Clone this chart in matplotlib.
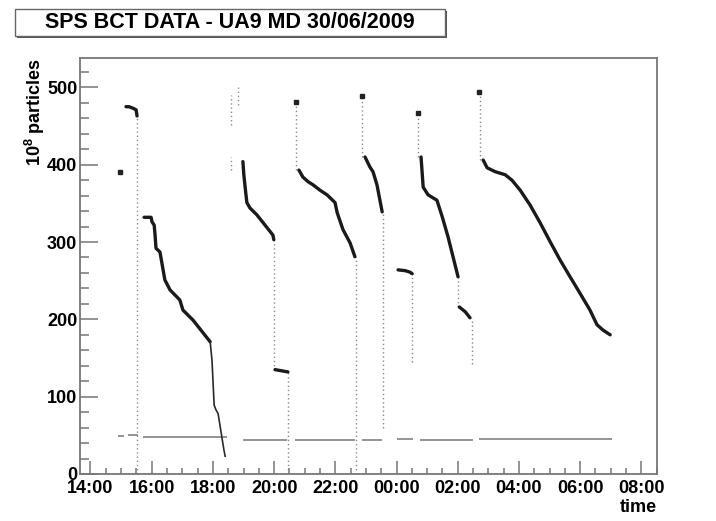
import matplotlib
matplotlib.use("Agg")
import matplotlib.pyplot as plt
from matplotlib.patches import Rectangle
from matplotlib.ticker import MultipleLocator, FuncFormatter

plt.rcParams['font.family'] = ['Liberation Sans', 'DejaVu Sans']
plt.rcParams['mathtext.fontset'] = 'custom'
plt.rcParams['mathtext.rm'] = 'Liberation Sans:bold'
plt.rcParams['mathtext.bf'] = 'Liberation Sans:bold'

# time in hours since midnight of 30/06 (values > 24 are the next morning)
# intensity in units of 1e8 particles

# stored beam, one list pair per fill (dense part of the decay)
fill1_t = [15.16, 15.26, 15.39, 15.49, 15.52]
fill1_n = [475, 475, 473, 471, 463]
fill2_t = [15.75, 15.98, 16.01, 16.08, 16.11, 16.14, 16.27, 16.43, 16.60, 16.92, 17.02, 17.35, 17.91]
fill2_n = [332, 332, 326, 322, 309, 292, 287, 251, 238, 225, 212, 199, 171]
fill3_t = [18.98, 19.01, 19.08, 19.11, 19.21, 19.44, 19.70, 19.96, 19.99]
fill3_n = [404, 387, 361, 351, 344, 335, 322, 309, 303]
fill3b_t = [20.03, 20.45]
fill3b_n = [135, 132]
fill4_t = [20.81, 20.94, 21.11, 21.27, 21.50, 21.73, 21.99, 22.06, 22.25, 22.48, 22.64]
fill4_n = [393, 384, 378, 374, 367, 361, 351, 338, 316, 299, 281]
fill5_t = [22.97, 23.13, 23.23, 23.36, 23.53]
fill5_n = [410, 397, 391, 374, 339]
fill6_t = [24.05, 24.28, 24.44, 24.51]
fill6_n = [264, 263, 261, 259]
fill7_t = [24.80, 24.87, 25.03, 25.32, 25.49, 25.68, 26.01]
fill7_n = [410, 371, 361, 354, 333, 307, 255]
fill7b_t = [26.05, 26.24, 26.40]
fill7b_n = [216, 210, 202]
fill8_t = [26.83, 26.96, 27.22, 27.55, 27.77, 28.04, 28.36, 28.69, 29.01, 29.34,
           29.67, 29.99, 30.32, 30.55, 30.75, 30.98]
fill8_n = [406, 396, 391, 387, 380, 367, 348, 325, 301, 277, 255, 234, 212, 193, 186, 180]

# end of fill 2, scraped down in steps
tail2_t = [17.91, 17.97, 18.04, 18.10, 18.17, 18.23, 18.36, 18.40]
tail2_n = [171, 147, 89, 83, 78, 63, 31, 23]

# injections and dumps: sparse samples along vertical lines
drop_t = [15.53, 18.59, 18.59, 18.82, 20.00, 20.46, 20.73, 22.66, 22.87, 23.55,
          24.52, 24.71, 26.02, 26.45, 26.72]
drop_hi = [463, 490, 410, 500, 303, 132, 481, 281, 489, 339, 259, 467, 255, 202, 494]
drop_lo = [0, 451, 393, 477, 135, 0, 393, 0, 410, 60, 145, 410, 216, 142, 406]

# isolated samples at the start of each injection
inj_t = [14.96, 20.72, 22.87, 24.70, 26.70]
inj_n = [391, 481, 489, 467, 494]

# offset reading of the monitor with no beam
base_t0 = [14.91, 15.22, 15.73, 18.98, 20.68, 22.87, 24.02, 24.76, 26.69]
base_t1 = [15.10, 15.56, 18.46, 20.42, 22.64, 23.53, 24.54, 26.50, 31.04]
base_n = [49, 50, 48, 44.5, 43.5, 44, 45, 44, 45]

fig = plt.figure(figsize=(7.16, 5.21), dpi=100)
ax = fig.add_axes([80 / 716, 47 / 521, 577 / 716, 416 / 521])

ax.hlines(base_n, base_t0, base_t1, colors='#8c8c8c', lw=1.3)
ax.vlines(drop_t, drop_lo, drop_hi, colors='#8a8a8a', linestyles=(0, (1, 2)), lw=1)

for t, n in [(fill1_t, fill1_n), (fill2_t, fill2_n), (fill3_t, fill3_n), (fill3b_t, fill3b_n),
             (fill4_t, fill4_n), (fill5_t, fill5_n), (fill6_t, fill6_n), (fill7_t, fill7_n),
             (fill7b_t, fill7b_n), (fill8_t, fill8_n)]:
    ax.plot(t, n, color='#1a1a1a', lw=2.4, solid_capstyle='round')
ax.plot(tail2_t, tail2_n, color='#2a2a2a', lw=1.2)
ax.plot(inj_t, inj_n, 's', ms=3, color='#222222')

ax.set_xlim(13.657, 32.51)
ax.set_ylim(0, 538)

ax.xaxis.set_major_locator(MultipleLocator(2))
ax.xaxis.set_minor_locator(MultipleLocator(0.5))
ax.xaxis.set_major_formatter(FuncFormatter(lambda h, pos: f"{int(round(h)) % 24:02d}:00"))
ax.yaxis.set_major_locator(MultipleLocator(100))
ax.yaxis.set_minor_locator(MultipleLocator(20))

ax.tick_params(axis='both', which='both', direction='in', colors='#777777',
               labelcolor='black', top=False, right=False)
ax.tick_params(axis='x', which='major', length=9.2, width=1.1, pad=4)
ax.tick_params(axis='x', which='minor', length=4.3, width=1.1)
ax.tick_params(axis='y', which='major', length=13, width=1.1, pad=2)
ax.tick_params(axis='y', which='minor', length=6.5, width=1.1)
for lab in ax.get_xticklabels() + ax.get_yticklabels():
    lab.set_fontsize(13)
    lab.set_fontweight('bold')
for sp in ax.spines.values():
    sp.set_color('#777777')
    sp.set_linewidth(1.3)

fig.text(35 / 716, (521 - 58) / 521, r'10$^{8}$ particles', rotation=90, ha='center',
         va='top', fontsize=13, fontweight='bold')
fig.text(657 / 716, (521 - 508) / 521, 'time', ha='right', va='center',
         fontsize=13, fontweight='bold')

# title box with drop shadow
fig.add_artist(Rectangle((17 / 716, (521 - 38) / 521), 430 / 716, 27 / 521,
                         transform=fig.transFigure, facecolor='#555555', edgecolor='none'))
fig.add_artist(Rectangle((15 / 716, (521 - 36) / 521), 430 / 716, 27 / 521,
                         transform=fig.transFigure, facecolor='white', edgecolor='#666666', lw=1))
fig.text(230 / 716, (521 - 23) / 521, 'SPS BCT DATA - UA9 MD 30/06/2009', ha='center',
         va='center', fontsize=15.5, fontweight='bold')

fig.savefig('out.png', dpi=100)
